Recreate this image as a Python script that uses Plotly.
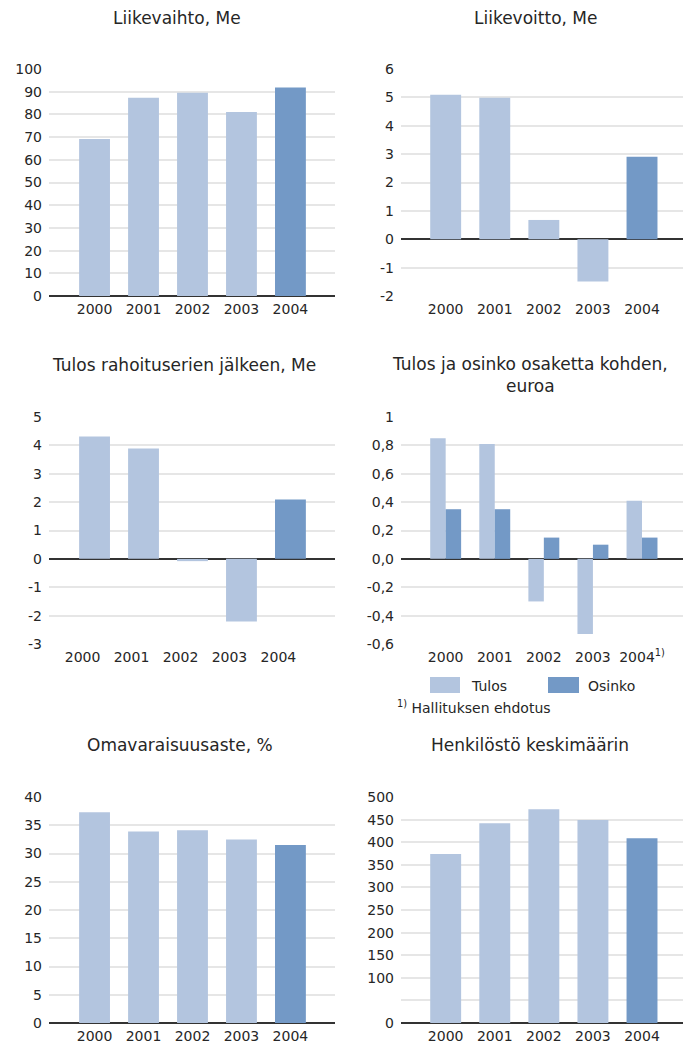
import plotly.graph_objects as go

W, H = 683, 1043

years = ["2000", "2001", "2002", "2003", "2004"]

liikevaihto = [69.2, 87.3, 89.5, 81.1, 91.8]
liikevoitto = [5.09, 4.99, 0.68, -1.49, 2.91]
tulos_rahoitus = [4.31, 3.89, -0.08, -2.21, 2.09]
tulos_osake = [0.85, 0.81, -0.30, -0.53, 0.41]
osinko_osake = [0.35, 0.35, 0.15, 0.10, 0.15]
omavaraisuus = [37.3, 33.9, 34.1, 32.5, 31.5]
henkilosto = [374, 442, 473, 449, 409]

LIGHT = "#b3c5df"
DARK = "#7399c6"
TEXT = "#262626"
FONT = "DejaVu Sans"


def px_x(p):
    return p / W


def px_y(p):
    return 1 - p / H


def bar_colors():
    return [LIGHT] * 4 + [DARK]


def labels(vals):
    return [str(v) for v in vals]


fig = go.Figure()

panels = [
    dict(vals=liikevaihto, title="Liikevaihto, Me", tx=177, ty=18,
         xs=(49, 335), ys=(69, 296), yr=(0, 100),
         tickvals=list(range(0, 101, 10)), ticktext=labels(range(0, 101, 10)),
         minor=None, shift=0),
    dict(vals=liikevoitto, title="Liikevoitto, Me", tx=535, ty=18,
         xs=(401, 683), ys=(69, 296), yr=(-2, 6),
         tickvals=list(range(-2, 7)), ticktext=labels(range(-2, 7)),
         minor=None, shift=0),
    dict(vals=tulos_rahoitus, title="Tulos rahoituserien jälkeen, Me", tx=184, ty=365,
         xs=(49, 335), ys=(417, 644), yr=(-3, 5),
         tickvals=list(range(-3, 6)), ticktext=labels(range(-3, 6)),
         minor=None, shift=-12),
    dict(vals=None, title="Tulos ja osinko osaketta kohden,<br>euroa", tx=530, ty=375,
         xs=(401, 683), ys=(417, 644), yr=(-0.6, 1),
         tickvals=[-0.6, -0.4, -0.2, 0, 0.2, 0.4, 0.6, 0.8, 1],
         ticktext=["-0,6", "-0,4", "-0,2", "0,0", "0,2", "0,4", "0,6", "0,8", "1"],
         minor=None, shift=0),
    dict(vals=omavaraisuus, title="Omavaraisuusaste, %", tx=180, ty=745,
         xs=(49, 335), ys=(797, 1023), yr=(0, 40),
         tickvals=list(range(0, 41, 5)), ticktext=labels(range(0, 41, 5)),
         minor=None, shift=0),
    dict(vals=henkilosto, title="Henkilöstö keskimäärin", tx=530, ty=745,
         xs=(401, 683), ys=(797, 1023), yr=(0, 500),
         tickvals=[0] + list(range(100, 501, 50)),
         ticktext=labels([0] + list(range(100, 501, 50))),
         minor=[50], shift=0),
]

annotations = []
layout = {}

for i, p in enumerate(panels, start=1):
    xa = "x" if i == 1 else f"x{i}"
    ya = "y" if i == 1 else f"y{i}"
    left_col = p["xs"][0] < 300
    xr = [-0.93, 4.91] if left_col else [-0.91, 4.835]

    if p["vals"] is not None:
        fig.add_trace(go.Bar(x=years, y=p["vals"], marker_color=bar_colors(),
                             marker_line_width=0, width=0.63, showlegend=False,
                             xaxis=xa, yaxis=ya))
    else:
        fig.add_trace(go.Bar(x=years, y=tulos_osake, name="Tulos", marker_color=LIGHT,
                             marker_line_width=0, showlegend=False, xaxis=xa, yaxis=ya))
        fig.add_trace(go.Bar(x=years, y=osinko_osake, name="Osinko", marker_color=DARK,
                             marker_line_width=0, showlegend=False, xaxis=xa, yaxis=ya))

    xticktext = years if p["vals"] is not None else years[:4] + ["2004<sup>1)</sup>"]
    layout["xaxis" if i == 1 else f"xaxis{i}"] = dict(
        domain=[px_x(p["xs"][0]), px_x(p["xs"][1])], anchor=ya, range=xr,
        type="category", showgrid=False, zeroline=False, showline=False,
        automargin=False,
        tickvals=years, ticktext=xticktext, ticks="", ticklabelshift=p["shift"],
        ticklabelstandoff=3,
        tickfont=dict(family=FONT, size=14, color=TEXT), fixedrange=True)
    yaxis = dict(
        domain=[px_y(p["ys"][1]), px_y(p["ys"][0])], anchor=xa, range=list(p["yr"]),
        showgrid=True, gridcolor="#e6e6e6", gridwidth=2,
        zeroline=True, zerolinecolor="#333333", zerolinewidth=1.5,
        automargin=False,
        tickvals=p["tickvals"], ticktext=p["ticktext"], ticks="",
        ticklabelstandoff=6,
        tickfont=dict(family=FONT, size=14, color=TEXT), fixedrange=True)
    if p["minor"]:
        yaxis["minor"] = dict(tickvals=p["minor"], showgrid=True,
                              gridcolor="#e6e6e6", gridwidth=2, ticks="")
    layout["yaxis" if i == 1 else f"yaxis{i}"] = yaxis

    annotations.append(dict(text=p["title"], x=px_x(p["tx"]), y=px_y(p["ty"]),
                            xref="paper", yref="paper", showarrow=False,
                            xanchor="center", yanchor="middle",
                            font=dict(family=FONT, size=17, color=TEXT)))

# legend and footnote for the per-share panel
shapes = [
    dict(type="rect", xref="paper", yref="paper", x0=px_x(430), x1=px_x(460),
         y0=px_y(693), y1=px_y(677), fillcolor=LIGHT, line_width=0),
    dict(type="rect", xref="paper", yref="paper", x0=px_x(548), x1=px_x(579),
         y0=px_y(693), y1=px_y(677), fillcolor=DARK, line_width=0),
]
annotations += [
    dict(text="Tulos", x=px_x(469), y=px_y(686), xref="paper", yref="paper",
         showarrow=False, xanchor="left", yanchor="middle",
         font=dict(family=FONT, size=14, color=TEXT)),
    dict(text="Osinko", x=px_x(586), y=px_y(686), xref="paper", yref="paper",
         showarrow=False, xanchor="left", yanchor="middle",
         font=dict(family=FONT, size=14, color=TEXT)),
    dict(text="<sup>1)</sup> Hallituksen ehdotus", x=px_x(395), y=px_y(707),
         xref="paper", yref="paper", showarrow=False, xanchor="left", yanchor="middle",
         font=dict(family=FONT, size=14, color=TEXT)),
]

fig.update_layout(
    **layout,
    width=W, height=H,
    margin=dict(l=0, r=0, t=0, b=0, autoexpand=False),
    plot_bgcolor="white", paper_bgcolor="white",
    barmode="group", bargap=0.37, bargroupgap=0,
    annotations=annotations, shapes=shapes,
    showlegend=False,
)

fig.write_html("out.html", config={"displayModeBar": False},
               post_script="document.body.style.margin='0';")
